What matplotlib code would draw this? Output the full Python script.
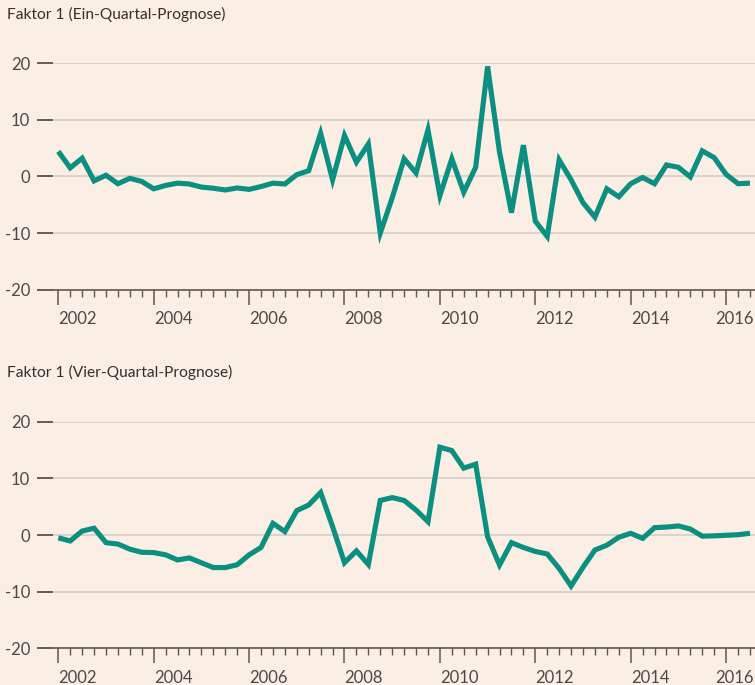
import matplotlib
matplotlib.use("Agg")
import matplotlib.pyplot as plt
import matplotlib.transforms as mtransforms
import numpy as np
import pandas as pd

# Quarterly observations 2002Q1 .. 2016Q3
quarters = pd.period_range("2002Q1", "2016Q3", freq="Q")

ein_quartal = [4.4, 1.5, 3.2, -0.8, 0.2, -1.3, -0.35, -0.9, -2.2, -1.6,
               -1.2, -1.35, -1.9, -2.1, -2.4, -2.05, -2.3, -1.8, -1.2, -1.35,
               0.3, 1.0, 7.6, -0.6, 7.2, 2.5, 5.7, -10.0, -3.8, 3.1,
               0.6, 8.2, -3.4, 3.1, -2.8, 1.6, 19.4, 4.3, -6.4, 5.5,
               -7.9, -10.6, 2.9, -0.6, -4.65, -7.2, -2.2, -3.6, -1.3, -0.2,
               -1.3, 2.0, 1.6, -0.1, 4.5, 3.3, 0.35, -1.3, -1.2]

vier_quartal = [-0.5, -1.05, 0.7, 1.2, -1.35, -1.6, -2.5, -3.05, -3.1, -3.5,
                -4.4, -4.05, -4.9, -5.75, -5.75, -5.25, -3.5, -2.2, 2.05, 0.6,
                4.3, 5.3, 7.5, 1.5, -4.9, -2.8, -5.2, 6.1, 6.6, 6.1,
                4.4, 2.35, 15.5, 14.9, 11.8, 12.5, -0.3, -5.3, -1.35, -2.2,
                -2.9, -3.35, -5.9, -9.0, -5.7, -2.65, -1.8, -0.4, 0.3, -0.6,
                1.3, 1.4, 1.6, 1.05, -0.2, -0.15, -0.05, 0.05, 0.3]

titles = ["Faktor 1 (Ein-Quartal-Prognose)", "Faktor 1 (Vier-Quartal-Prognose)"]
y_ticks = [-20, -10, 0, 10, 20]
y_ticklabels = ["-20", "-10", "0", "10", "20"]
x_years = [2002, 2004, 2006, 2008, 2010, 2012, 2014, 2016]

BG = "#FBEEE4"
LINE = "#0B8F80"
GRID = "#D3CCC6"
SPINE = "#5C5752"
TEXT = "#33302E"
TICKTXT = "#4D4845"

plt.rcParams["font.family"] = ["Lato", "DejaVu Sans"]

fig = plt.figure(figsize=(7.55, 6.85), dpi=100, facecolor=BG)

x = np.array([q.year + (q.quarter - 1) / 4 for q in quarters])

W, H = 755, 685
left_px = 53
panels = [(63.0, 289.7, ein_quartal, 14), (421.7, 648.3, vier_quartal, 372)]

MAJ_LEN, MAJ_PAD = 10.8, 4.5

for (top_px, bot_px, vals, title_y), title in zip(panels, titles):
    ax = fig.add_axes([left_px / W, 1 - bot_px / H, 1 - left_px / W, (bot_px - top_px) / H])
    ax.set_facecolor(BG)
    ax.plot(x, vals, color=LINE, lw=3.7, solid_joinstyle="miter", solid_capstyle="butt",
            clip_on=False, zorder=3)
    ax.set_ylim(-20, 20)
    ax.set_xlim(2001.889, 2016.606)
    for s in ["top", "right", "left"]:
        ax.spines[s].set_visible(False)
    ax.spines["bottom"].set_color(SPINE)
    ax.spines["bottom"].set_linewidth(1.2)
    for yv in y_ticks[1:]:
        ax.axhline(yv, color=GRID, lw=1.1, zorder=1)
    ax.set_yticks(y_ticks)
    ax.set_yticklabels(y_ticklabels)
    ax.tick_params(axis="y", length=11.5, width=1.1, color="#3A3633", pad=5,
                   labelsize=12, labelcolor=TICKTXT)
    ax.set_xticks(x_years)
    labels = [str(y) for y in x_years]
    ax.set_xticklabels(labels[:-1] + [""], ha="left")
    ax.set_xticks(x, minor=True)
    ax.tick_params(axis="x", which="major", length=MAJ_LEN, width=1.1, color=SPINE,
                   pad=MAJ_PAD, labelsize=12, labelcolor=TICKTXT)
    ax.tick_params(axis="x", which="minor", length=4.8, width=1.0, color=SPINE)
    # last year label kept inside the figure edge
    off = mtransforms.offset_copy(ax.transAxes, fig=fig, x=-1, y=-(MAJ_LEN + MAJ_PAD),
                                  units="points")
    ax.text(1.0, 0.0, labels[-1], transform=off, ha="right", va="top",
            fontsize=12, color=TICKTXT)
    fig.text(7 / W, 1 - title_y / H, title, ha="left", va="center",
             fontsize=11.2, color=TEXT)

fig.savefig("out.png", dpi=100, facecolor=BG)
